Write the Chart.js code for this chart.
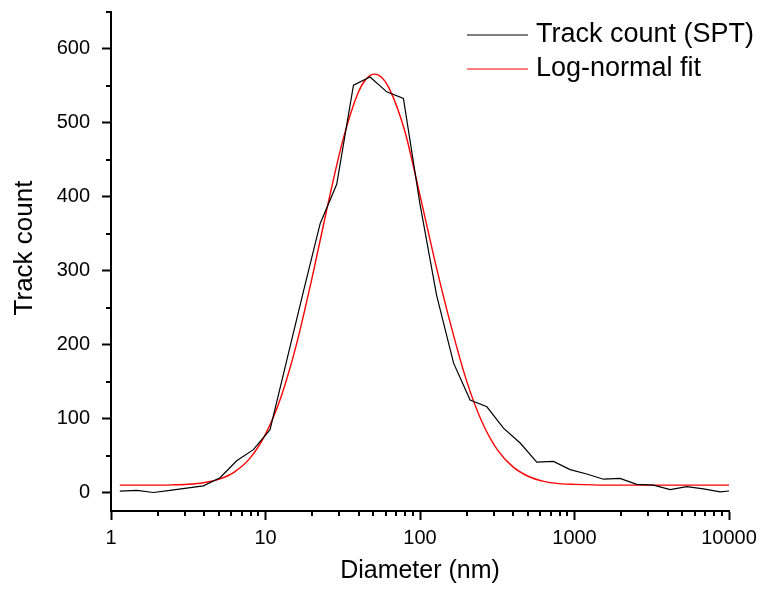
<!DOCTYPE html>
<html>
<head>
<meta charset="utf-8">
<script src="https://cdn.jsdelivr.net/npm/chart.js@4.4.0/dist/chart.umd.min.js"></script>
<style>
  body { margin: 0; background: #fff; }
  #wrap { width: 762px; height: 592px; }
</style>
</head>
<body>
<div id="wrap"><canvas id="sizeChart" width="762" height="592"></canvas></div>
<script>
// SPT histogram: bin centres (nm) and number of tracks per bin
const binDiameters = [1.14, 1.47, 1.88, 2.41, 3.09, 3.96, 5.08, 6.51, 8.35, 10.7,
  13.7, 17.6, 22.6, 28.9, 37.1, 47.5, 60.9, 78.1, 100, 128,
  165, 211, 271, 347, 445, 570, 731, 937, 1200, 1540,
  1970, 2530, 3250, 4160, 5330, 6840, 8770, 11240];
const trackCounts = [2, 3, 0, 3, 6, 9, 20, 43, 58, 85,
  178, 272, 364, 417, 551, 562, 542, 533, 390, 267,
  175, 125, 116, 87, 67, 41, 42, 31, 25, 18,
  19, 11, 10, 4, 8, 5, 1, 3];

// log-normal fit sampled along the diameter axis
const fitDiameters = [1.14, 1.585, 2.512, 3.162, 3.981, 5.012, 6.31, 7.943, 10, 12.59,
  15.85, 19.95, 25.12, 31.62, 39.81, 44.67, 50.7, 56.23, 63.1, 79.43,
  100, 125.9, 158.5, 199.5, 251.2, 316.2, 398.1, 501.2, 631, 794.3,
  1000, 1585, 3162, 10000];
const fitCounts = [10, 10, 10.4, 11.2, 13.3, 18, 28, 46.5, 79, 129,
  200, 289, 386, 476, 541, 559, 566, 562, 547, 490,
  402, 310, 226, 152, 96, 58, 35, 22, 15, 12,
  11, 10, 10, 10];

const seriesLabels = ["Track count (SPT)", "Log-normal fit"];
const seriesColors = ["#000000", "#ff0000"];
const yTitle = "Track count";

const xMajorTicks = [1, 10, 100, 1000, 10000];
const xMinorTicks = [2, 3, 4, 5, 6, 7, 8, 9, 20, 30, 40, 50, 60, 70, 80, 90,
  200, 300, 400, 500, 600, 700, 800, 900, 2000, 3000, 4000, 5000, 6000, 7000, 8000, 9000];
const yMajorTicks = [0, 100, 200, 300, 400, 500, 600];
const yMinorTicks = [50, 150, 250, 350, 450, 550, 650];

const FONT = "'Liberation Sans', Arial, sans-serif";
Chart.defaults.font.family = FONT;
Chart.defaults.color = "#000";

// short unlabelled ticks between the major ones
const minorTicks = {
  id: "minorTicks",
  afterDraw(chart) {
    const { ctx } = chart;
    const x = chart.scales.x;
    const y = chart.scales.y;
    ctx.save();
    ctx.strokeStyle = "#000";
    ctx.lineWidth = 2;
    ctx.beginPath();
    xMinorTicks.forEach((v) => {
      const px = Math.round(x.getPixelForValue(v));
      ctx.moveTo(px, x.top);
      ctx.lineTo(px, x.top + 5);
    });
    yMinorTicks.forEach((v) => {
      const py = Math.round(y.getPixelForValue(v));
      ctx.moveTo(y.right, py);
      ctx.lineTo(y.right - 5, py);
    });
    ctx.stroke();
    ctx.restore();
  },
};

// legend drawn inside the plot, top right, plus the rotated y title
const overlays = {
  id: "overlays",
  afterDraw(chart) {
    const { ctx } = chart;
    ctx.save();
    ctx.font = "27px " + FONT;
    ctx.textBaseline = "middle";
    chart.data.datasets.forEach((ds, i) => {
      const rowY = 35 + i * 34;
      ctx.strokeStyle = ds.borderColor;
      ctx.lineWidth = 1.2;
      ctx.beginPath();
      ctx.moveTo(467, rowY);
      ctx.lineTo(528, rowY);
      ctx.stroke();
      ctx.fillStyle = "#000";
      ctx.fillText(ds.label, 536, rowY);
    });

    ctx.translate(32, 248);
    ctx.rotate(-Math.PI / 2);
    ctx.font = "26px " + FONT;
    ctx.textAlign = "center";
    ctx.textBaseline = "alphabetic";
    ctx.fillText(yTitle, 0, 0);
    ctx.restore();
  },
};

const histPoints = binDiameters.map((d, i) => ({ x: d, y: trackCounts[i] }));
const fitPoints = fitDiameters.map((d, i) => ({ x: d, y: fitCounts[i] }));

new Chart(document.getElementById("sizeChart"), {
  type: "line",
  data: {
    datasets: [
      {
        label: seriesLabels[0],
        data: histPoints,
        borderColor: seriesColors[0],
        borderWidth: 1.2,
        pointRadius: 0,
        tension: 0,
      },
      {
        label: seriesLabels[1],
        data: fitPoints,
        borderColor: seriesColors[1],
        borderWidth: 1.4,
        pointRadius: 0,
        cubicInterpolationMode: "monotone",
      },
    ],
  },
  options: {
    responsive: false,
    animation: false,
    layout: { padding: { left: 0, right: 33, top: 12, bottom: 0 } },
    plugins: {
      legend: { display: false },
      tooltip: { enabled: false },
    },
    scales: {
      x: {
        type: "logarithmic",
        position: "bottom",
        min: 1,
        max: 10000,
        afterBuildTicks: (scale) => {
          scale.ticks = xMajorTicks.map((v) => ({ value: v }));
        },
        afterFit: (scale) => {
          scale.height = 81;
          scale.paddingLeft = 0;
          scale.paddingRight = 0;
        },
        ticks: {
          callback: (v) => String(v),
          font: { size: 20 },
          color: "#000",
          padding: 6,
          maxRotation: 0,
          autoSkip: false,
        },
        grid: {
          display: true,
          drawOnChartArea: false,
          drawTicks: true,
          tickLength: 9,
          tickWidth: 2,
          tickColor: "#000",
        },
        border: { display: true, color: "#000", width: 2 },
        title: {
          display: true,
          text: "Diameter (nm)",
          font: { size: 25 },
          color: "#000",
          padding: { top: 0, bottom: 6 },
        },
      },
      y: {
        type: "linear",
        min: -25,
        max: 650,
        afterBuildTicks: (scale) => {
          scale.ticks = yMajorTicks.map((v) => ({ value: v }));
        },
        afterFit: (scale) => {
          scale.width = 111;
          scale.paddingTop = 0;
          scale.paddingBottom = 0;
        },
        ticks: {
          callback: (v) => String(v),
          font: { size: 20 },
          color: "#000",
          padding: 12,
        },
        grid: {
          display: true,
          drawOnChartArea: false,
          drawTicks: true,
          tickLength: 9,
          tickWidth: 2,
          tickColor: "#000",
        },
        border: { display: true, color: "#000", width: 2 },
        title: { display: false },
      },
    },
  },
  plugins: [minorTicks, overlays],
});
</script>
</body>
</html>
